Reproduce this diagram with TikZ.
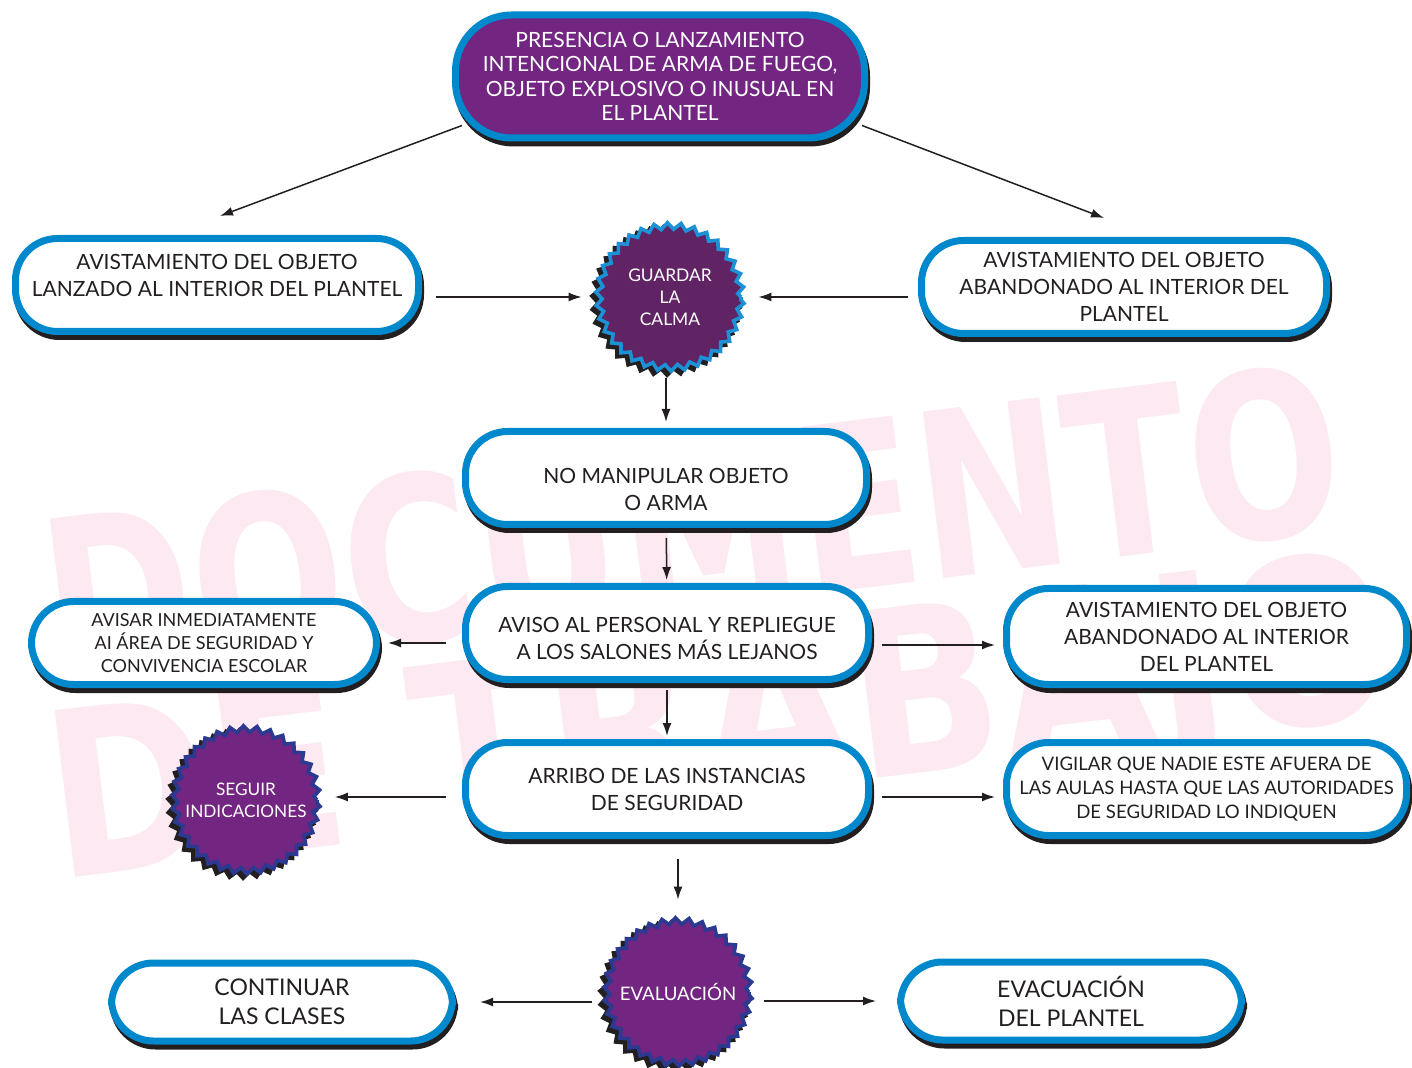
\documentclass[tikz,border=0pt]{standalone}
\usepackage{fontspec}
\setmainfont{Lato}
\newfontfamily\marcafont[FakeStretch=0.78]{DejaVu Sans}
\newfontfamily\marcafontb[FakeStretch=0.86]{DejaVu Sans}
\usetikzlibrary{shapes, shadows, decorations.pathmorphing, arrows.meta, positioning}

\definecolor{azul}{RGB}{0,136,204}
\definecolor{azulcl}{RGB}{28,145,214}
\definecolor{azulosc}{RGB}{43,57,144}
\definecolor{morado}{RGB}{114,37,129}
\definecolor{moradoosc}{RGB}{96,36,100}
\definecolor{sombra}{RGB}{35,31,32}
\definecolor{texto}{RGB}{35,31,32}
\definecolor{marca}{RGB}{252,233,241}

\tikzstyle{caja} = [draw=azul, fill=white, line width=3.5pt, rectangle, rounded corners=21pt, align=center, text=texto, font=\fontsize{10.5}{13.5}\selectfont, drop shadow={shadow xshift=1pt, shadow yshift=-2.5pt, opacity=1, fill=sombra, draw=sombra}]
\tikzstyle{rotulo} = [align=center, text=texto, font=\fontsize{10.5}{13.5}\selectfont]
\tikzstyle{estrella} = [circle, minimum size=71pt, inner sep=0pt, decorate, decoration={zigzag, segment length=6.52pt, amplitude=1.6pt}, draw=azulosc, fill=morado, line width=1.8pt, align=center, text=white, font=\fontsize{9}{11}\selectfont, drop shadow={shadow xshift=-2pt, shadow yshift=-2pt, opacity=1, fill=sombra, draw=sombra}]
\tikzstyle{flecha} = [->, line width=0.75pt, draw=texto, shorten <=5pt, shorten >=4pt]
\tikzstyle{marcaagua} = [text=marca, font=\marcafont\bfseries\fontsize{115}{115}\selectfont, rotate=7]

\begin{document}
\begin{tikzpicture}[x=0.5pt, y=-0.5pt, >={Latex[length=6.5pt,width=4.5pt]}]
\useasboundingbox (0,0) rectangle (1412,1068);

% marca de agua
\node [marcaagua] (marca1) at (692,525) {DOCUMENTO};
\node [marcaagua, font=\marcafontb\bfseries\fontsize{115}{115}\selectfont] (marca2) at (722,735) {DE TRABAJO};

\node [caja, fill=morado, text=white, rounded corners=28pt, minimum width=204.5pt, minimum height=61.5pt, font=\fontsize{10.5}{12.3}\selectfont] (top) at (660,76.5) {PRESENCIA O LANZAMIENTO\\INTENCIONAL DE ARMA DE FUEGO,\\OBJETO EXPLOSIVO O INUSUAL EN\\EL PLANTEL};
\node [caja, minimum width=201.5pt, minimum height=46.5pt, label={[rotulo, yshift=5pt]center:AVISTAMIENTO DEL OBJETO\\LANZADO AL INTERIOR DEL PLANTEL}] (lanzado) at (217,285) {};
\node [caja, minimum width=202.5pt, minimum height=46.5pt] (abandonado) at (1124,287) {AVISTAMIENTO DEL OBJETO\\ABANDONADO AL INTERIOR DEL\\PLANTEL};
\node [estrella, draw=azulcl, fill=moradoosc, font=\fontsize{8.7}{11}\selectfont] (calma) at (670,297) {GUARDAR\\LA\\CALMA};
\node [caja, minimum width=200.5pt, minimum height=46.5pt, label={[rotulo, yshift=-5.5pt]center:NO MANIPULAR OBJETO\\O ARMA}] (nomanip) at (666,478) {};
\node [caja, minimum width=201.5pt, minimum height=46.5pt, label={[rotulo, yshift=-2.5pt]center:AVISO AL PERSONAL Y REPLIEGUE\\A LOS SALONES MÁS LEJANOS}] (aviso) at (667,633) {};
\node [caja, minimum width=172.5pt, minimum height=41.5pt, font=\fontsize{9}{11.5}\selectfont] (avisar) at (204,643) {AVISAR INMEDIATAMENTE\\AI ÁREA DE SEGURIDAD Y\\CONVIVENCIA ESCOLAR};
\node [caja, minimum width=200pt, minimum height=48pt] (abandonado2) at (1206.5,636.5) {AVISTAMIENTO DEL OBJETO\\ABANDONADO AL INTERIOR\\DEL PLANTEL};
\node [caja, minimum width=201.5pt, minimum height=46.5pt] (arribo) at (667,789) {ARRIBO DE LAS INSTANCIAS\\DE SEGURIDAD};
\node [estrella, font=\fontsize{8.6}{11}\selectfont] (seguir) at (246,800) {SEGUIR\\INDICACIONES};
\node [caja, minimum width=200pt, minimum height=46.5pt, font=\fontsize{9.3}{12}\selectfont] (vigilar) at (1206.5,789) {VIGILAR QUE NADIE ESTE AFUERA DE\\LAS AULAS HASTA QUE LAS AUTORIDADES\\DE SEGURIDAD LO INDIQUEN};
\node [estrella, font=\fontsize{9.3}{11}\selectfont] (evaluacion) at (678,992) {EVALUACIÓN};
\node [caja, minimum width=170.5pt, minimum height=39pt, font=\fontsize{11.5}{14.5}\selectfont] (continuar) at (282,1002) {CONTINUAR\\LAS CLASES};
\node [caja, minimum width=170.5pt, minimum height=39pt, font=\fontsize{11.5}{14.5}\selectfont] (evacuacion) at (1071,1001) {EVACUACIÓN\\DEL PLANTEL};

\draw [flecha, shorten <=0pt, shorten >=0pt] ([xshift=5pt,yshift=8pt]top.south west) -- ([xshift=1.5pt,yshift=9.5pt]lanzado.north);
\draw [flecha, shorten <=0pt, shorten >=0pt] ([xshift=-3pt,yshift=8pt]top.south east) -- ([xshift=-10pt,yshift=9.5pt]abandonado.north);
\draw [flecha, shorten <=7pt, shorten >=7.8pt] (lanzado.east |- calma) -- (calma);
\draw [flecha, shorten >=7.8pt] (abandonado.west |- calma) -- (calma);
\draw [flecha, shorten <=4.3pt, shorten >=3pt] (calma.south -| nomanip) -- (nomanip);
\draw [flecha, shorten >=1.5pt] (nomanip) -- (aviso);
\draw [flecha, shorten <=8pt] (aviso.west |- avisar.east) -- (avisar.east);
\draw [flecha] ([yshift=-6pt]aviso.east) -- ([yshift=-6pt]aviso.east -| abandonado2.west);
\draw [flecha, shorten <=3.5pt, shorten >=1.5pt] (aviso) -- (arribo);
\draw [flecha, shorten <=8pt, shorten >=8pt] ([yshift=-4pt]arribo.west) -- ([yshift=-4pt]arribo.west -| seguir.east);
\draw [flecha] ([yshift=-4pt]arribo.east) -- ([yshift=-4pt]arribo.east -| vigilar.west);
\draw [flecha, shorten <=10pt, shorten >=9.8pt] (arribo.south -| evaluacion) -- (evaluacion);
\draw [flecha, shorten <=6.8pt, shorten >=12pt] (evaluacion.west |- continuar.east) -- (continuar.east);
\draw [flecha, shorten <=6.8pt, shorten >=10.5pt] (evaluacion.east |- evacuacion.west) -- (evacuacion.west);
\end{tikzpicture}
\end{document}
